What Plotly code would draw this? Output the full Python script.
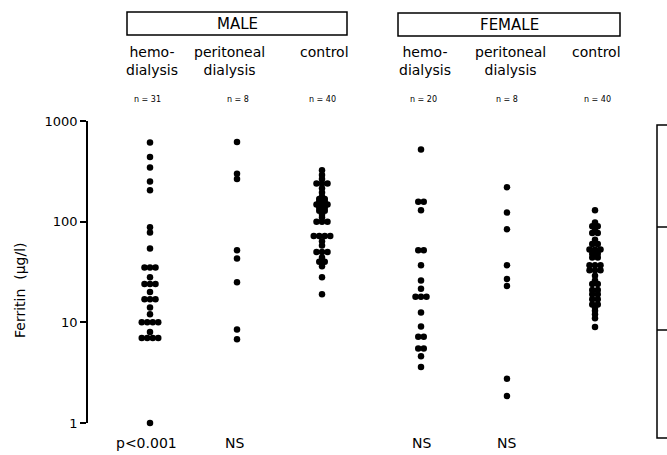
import plotly.graph_objects as go

# ---------------- data ----------------
groups = ["male_hemo", "male_peri", "male_control", "female_hemo", "female_peri", "female_control"]
group_labels = ["hemo-<br>dialysis", "peritoneal<br>dialysis", "control",
                "hemo-<br>dialysis", "peritoneal<br>dialysis", "control"]
n_labels = ["n = 31", "n = 8", "n = 40", "n = 20", "n = 8", "n = 40"]
p_labels = ["p<0.001", "NS", "", "NS", "NS", ""]
sex_labels = ["MALE", "FEMALE"]

male_hemo = [610, 440, 345, 250, 205, 88, 78, 54,
             35, 35, 35, 28, 24, 24, 24, 20, 17, 17, 17, 14, 12,
             10, 10, 10, 10, 8, 7, 7, 7, 7, 1]
male_peri = [620, 300, 265, 52, 43, 25, 8.5, 6.8]
male_control = [325, 290, 265, 240, 240, 240, 215, 195, 178, 168, 168,
                158, 158, 148, 148, 148, 138, 138, 128, 128, 118, 110,
                100, 100, 100,
                72, 72, 72, 72, 64, 58, 50, 50, 50, 44, 40, 40, 36, 28, 19]
female_hemo = [520, 158, 158, 130, 52, 52, 37, 26, 21.5, 18, 18, 18,
               12.5, 9.1, 7.2, 7.2, 5.5, 5.5, 4.6, 3.6]
female_peri = [220, 123, 84, 37, 27, 23, 2.75, 1.85]
female_control = [130, 98, 90, 90, 86, 77, 77, 66, 60, 60, 53, 53, 53, 48, 48,
                  44, 44, 37, 37, 37, 33, 33, 33, 29, 26, 24, 24, 21, 21,
                  19, 19, 17, 17, 15, 15, 14, 13, 12, 11, 9]

y_ticks = [1, 10, 100, 1000]
y_ticktext = ["1", "10", "100", "1000"]
y_title = "Ferritin  (µg/l)"

series = [male_hemo, male_peri, male_control, female_hemo, female_peri, female_control]

# ---------------- layout helpers ----------------
W, H = 667, 455
ML, MR, MT, MB = 88, 0, 121, 32
PH = H - MT - MB
PW = W - ML - MR
x_centers = [150, 237, 322, 421, 507, 595]   # column centres (x axis in pixel units)
label_x = [152, 229, 324, 425, 510, 596]
n_x = [147, 238, 322, 423, 507, 597]
p_x = [146, 234, 0, 421, 506, 0]
dot_gap = 5.5


def py(p):
    """pixel row -> paper y"""
    return (H - MB - p) / PH


def px(p):
    """pixel column -> paper x"""
    return (p - ML) / PW


def swarm(values, cx):
    xs = []
    counts = {}
    for v in values:
        counts[v] = counts.get(v, 0) + 1
    seen = {}
    for v in values:
        k = counts[v]
        i = seen.get(v, 0)
        seen[v] = i + 1
        xs.append(cx + (i - (k - 1) / 2) * dot_gap)
    return xs


fig = go.Figure()
for vals, cx in zip(series, x_centers):
    fig.add_trace(go.Scatter(
        x=swarm(vals, cx), y=vals, mode="markers",
        marker=dict(size=6.5, color="black", line=dict(width=0)),
        cliponaxis=False, showlegend=False, hoverinfo="y"))

font = "DejaVu Sans, Liberation Sans, sans-serif"
ann = []
shapes = []

# sex header boxes
for txt, x0, x1, y0, y1 in [(sex_labels[0], 127, 347, 12, 35), (sex_labels[1], 398, 620, 13, 36)]:
    shapes.append(dict(type="rect", xref="x", yref="paper", x0=x0, x1=x1, y0=py(y1), y1=py(y0),
                       line=dict(color="black", width=1.5)))
    ann.append(dict(text=txt, xref="x", yref="paper", x=(x0 + x1) / 2, y=py((y0 + y1) / 2),
                    showarrow=False, font=dict(size=15, family=font, color="black"),
                    xanchor="center", yanchor="middle"))

for i in range(6):
    two = "<br>" in group_labels[i]
    ann.append(dict(text=group_labels[i], xref="x", yref="paper", x=label_x[i],
                    y=py(61 if two else 52), showarrow=False, align="center",
                    font=dict(size=14, family=font, color="black"),
                    xanchor="center", yanchor="middle"))
    ann.append(dict(text=n_labels[i], xref="x", yref="paper", x=n_x[i], y=py(99),
                    showarrow=False, font=dict(size=8, family=font, color="black"),
                    xanchor="center", yanchor="middle"))
    if p_labels[i]:
        ann.append(dict(text=p_labels[i], xref="x", yref="paper", x=p_x[i], y=py(443),
                        showarrow=False, font=dict(size=14, family=font, color="black"),
                        xanchor="center", yanchor="middle"))

ann.append(dict(text=y_title, xref="paper", yref="paper", x=px(20), y=py(290), textangle=-90,
                showarrow=False, font=dict(size=14, family=font, color="black"),
                xanchor="center", yanchor="middle"))

# partial axis of the neighbouring panel at the right edge
shapes.append(dict(type="path", xref="x", yref="paper",
                   path=f"M 667,{py(125)} L 657,{py(125)} L 657,{py(438)} L 667,{py(438)}",
                   line=dict(color="black", width=1.5)))
for t in (227, 330):
    shapes.append(dict(type="line", xref="x", yref="paper", x0=657, x1=667, y0=py(t), y1=py(t),
                       line=dict(color="black", width=1.5)))

fig.update_layout(
    width=W, height=H, margin=dict(l=ML, r=MR, t=MT, b=MB),
    paper_bgcolor="white", plot_bgcolor="white",
    font=dict(family=font, color="black"),
    xaxis=dict(range=[ML, W - MR], visible=False, fixedrange=True),
    yaxis=dict(type="log", range=[0, 3], tickvals=y_ticks, ticktext=y_ticktext,
               showline=True, linecolor="black", linewidth=1.5, ticks="outside",
               ticklen=6, tickwidth=1.5, tickcolor="black", showgrid=False, zeroline=False,
               tickfont=dict(size=13, family=font, color="black")),
    annotations=ann, shapes=shapes, showlegend=False,
)

fig.write_html("out.html", config={"displayModeBar": False},
               post_script="document.body.style.margin='0';document.body.style.overflow='hidden';")
